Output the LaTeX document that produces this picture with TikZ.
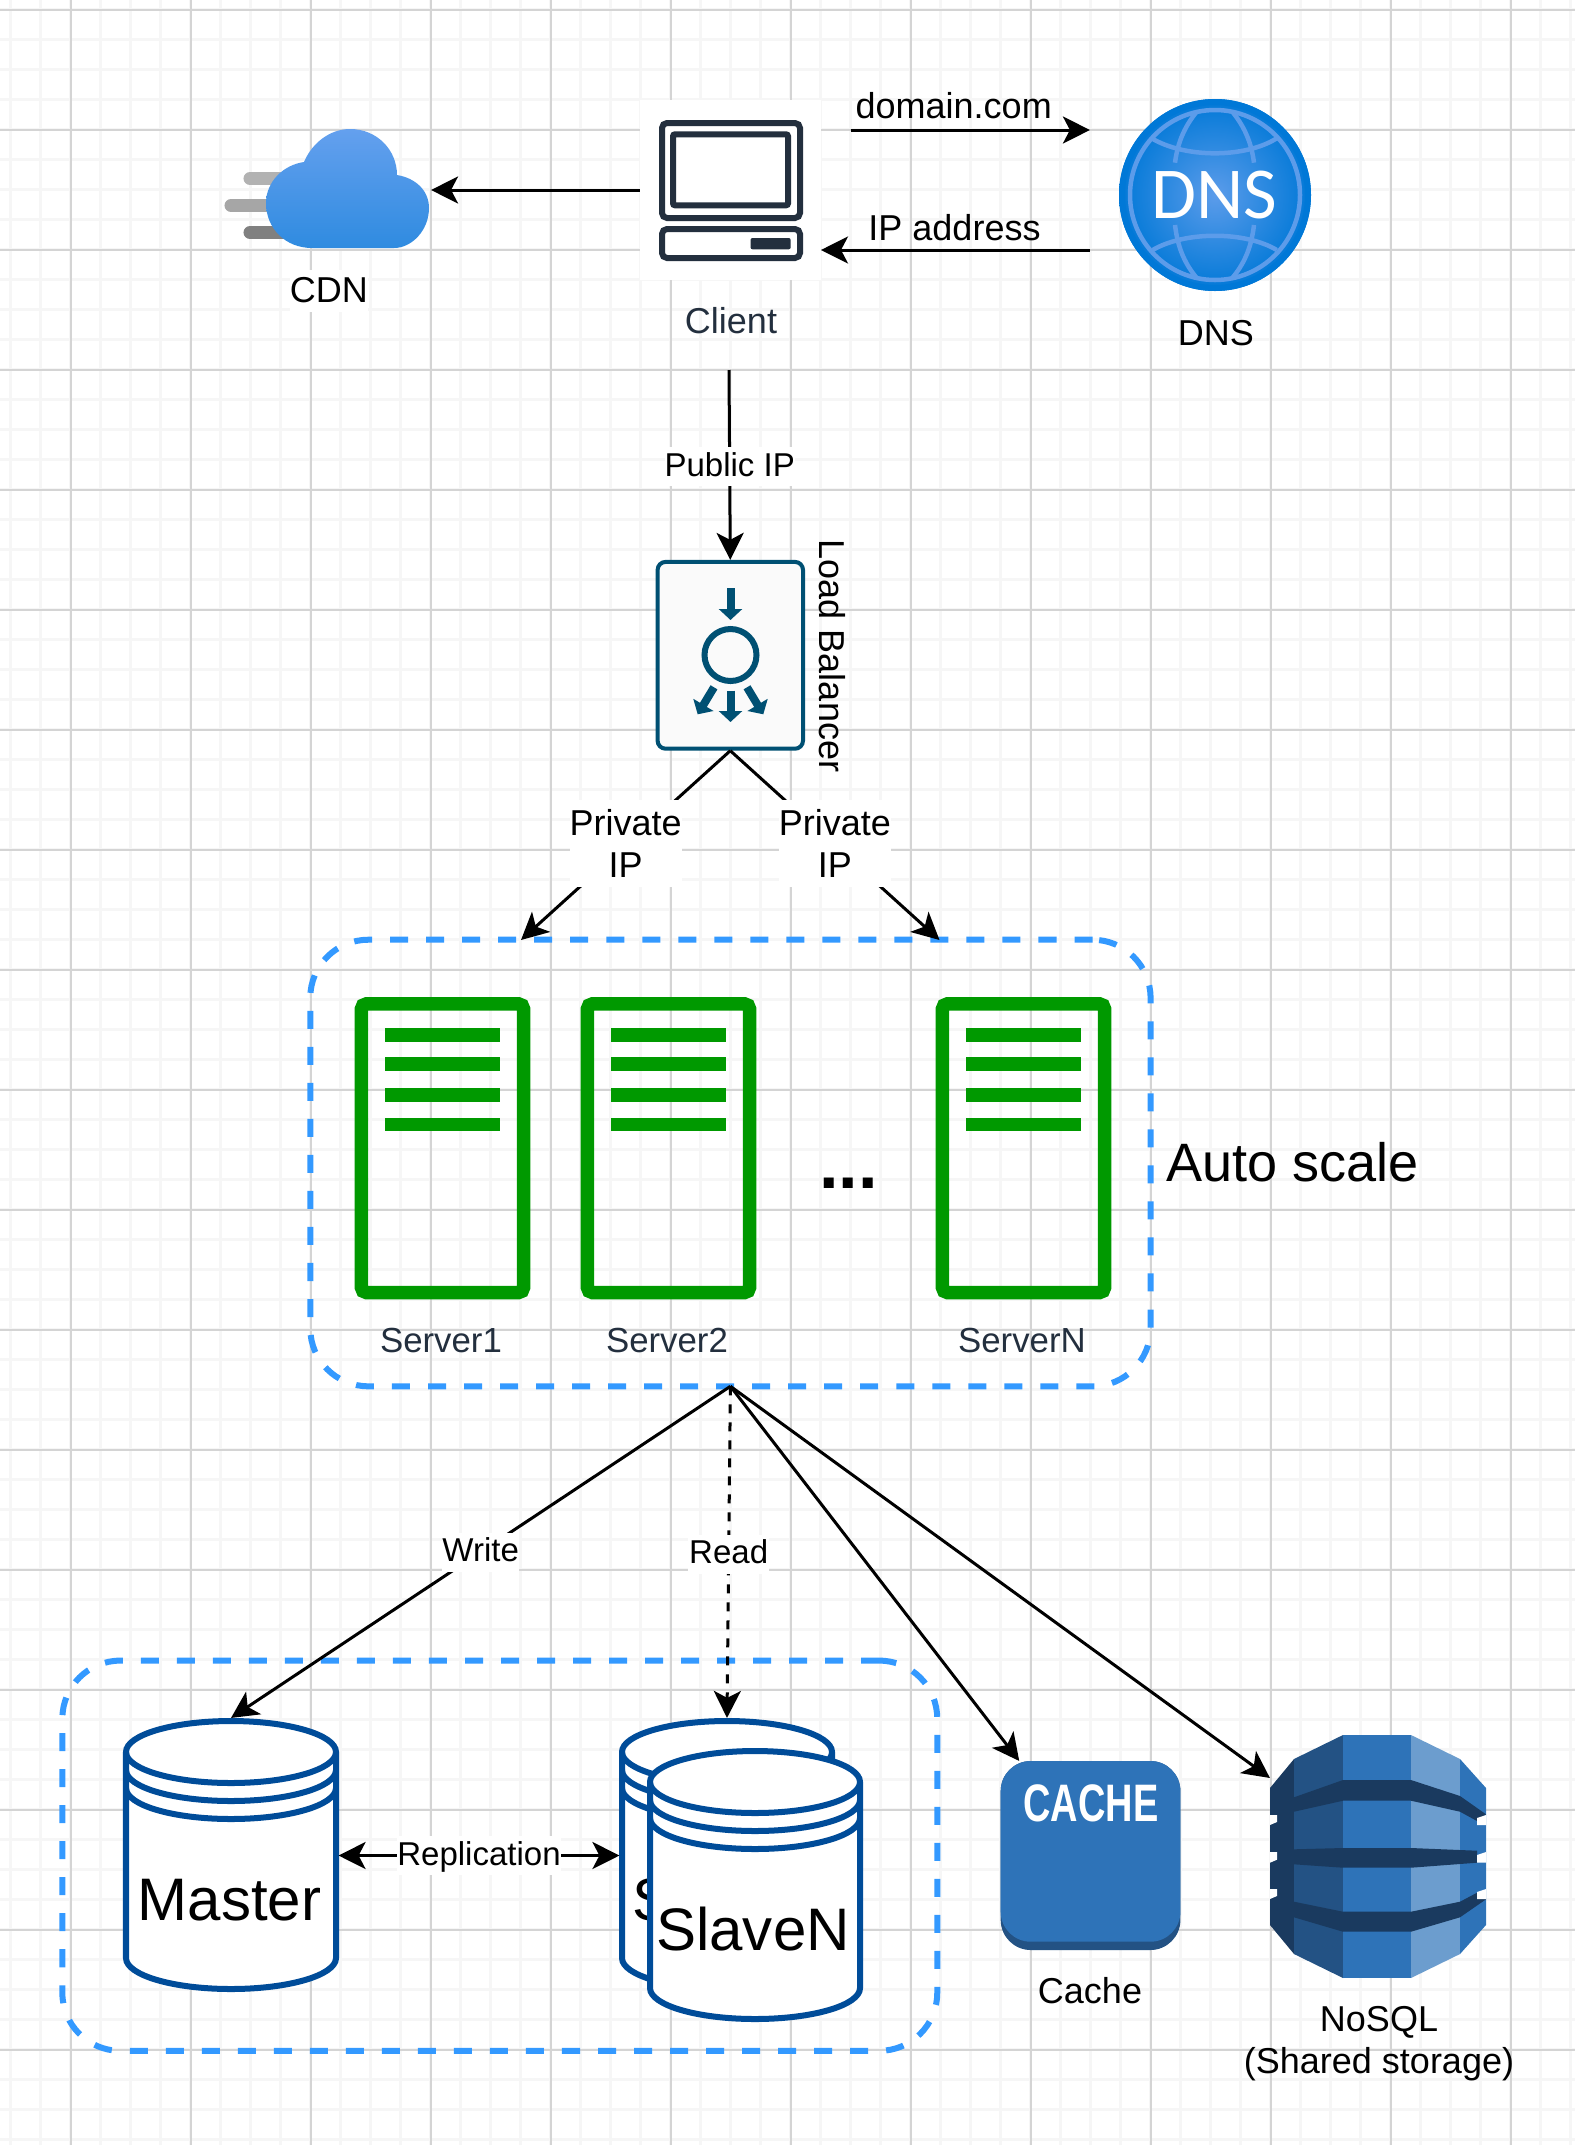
\documentclass[tikz,border=0pt]{standalone}
\usepackage{fontspec}
\setmainfont{Liberation Sans}
\newfontfamily\dnsfont{Carlito}
\usetikzlibrary{arrows.meta}

\newcommand{\labelfont}{\fontsize{10.24}{12.1}\selectfont}
\newcommand{\edgefont}{\fontsize{9.39}{11.3}\selectfont}
\newcommand{\bigfont}{\fontsize{17.07}{20.5}\selectfont}

\tikzset{
  gridminor/.style={color=gridlight, line width=0.03cm},
  gridmajor/.style={color=griddark, line width=0.02cm},
  link/.style={line width=0.03cm},
  textlabel/.style={inner sep=0, outer sep=0, font=\labelfont, anchor=base},
  darklabel/.style={textlabel, text=clientdark},
  edgelabel/.style={fill=white, inner sep=0, minimum height=0.39cm, text height=0.24cm, text depth=0.05cm, font=\edgefont},
  privatelabel/.style={fill=white, inner sep=0, minimum width=1.11cm, minimum height=0.87cm, align=center, font=\labelfont},
  iconbox/.style={inner sep=0, outer sep=0},
  groupbox/.style={draw=groupblue, line width=0.06cm, dash pattern=on 0.18cm off 0.18cm, rounded corners=0.58cm, inner sep=0, outer sep=0},
  serverbox/.style={draw=servergreen, line width=0.135cm, rounded corners=0.05cm, minimum width=1.62cm, minimum height=2.885cm, inner sep=0},
  serverline/.style={color=servergreen, line width=0.137cm},
  storeline/.style={draw=storeblue, line width=0.06cm},
  lbarrow/.style={color=lbteal, line width=0.08cm, -{Triangle[length=0.11cm,width=0.23cm]}},
  clientline/.style={draw=clientdark, line width=0.06cm},
  globeline/.style={draw=globelight, line width=0.045cm},
}

% cylinder: centre x, top y
\newcommand{\datastore}[2]{
  \draw[storeline, fill=white] (#1-105,#2+31) arc[start angle=180, end angle=360, x radius=105, y radius=31]
    -- (#1+105,#2+237) arc[start angle=0, end angle=180, x radius=105, y radius=31] -- cycle;
  \foreach \dy in {31,49,67} {
    \draw[storeline] (#1-105,#2+\dy) arc[start angle=180, end angle=0, x radius=105, y radius=31];
  }
}

\begin{document}
\begin{tikzpicture}[x=0.01cm,y=-0.01cm,>={Stealth[length=0.27cm,width=0.27cm,inset=0.07cm]}]
  \definecolor{gridlight}{RGB}{246,246,246}
  \definecolor{griddark}{RGB}{212,212,212}
  \definecolor{clientdark}{RGB}{35,47,62}
  \definecolor{groupblue}{RGB}{51,153,255}
  \definecolor{servergreen}{RGB}{0,153,0}
  \definecolor{storeblue}{RGB}{0,76,153}
  \definecolor{lbteal}{RGB}{0,80,115}
  \definecolor{lbfill}{RGB}{250,250,250}
  \definecolor{globelight}{RGB}{92,156,234}
  \definecolor{globeblue}{RGB}{0,120,215}
  \definecolor{cloudtop}{RGB}{100,160,238}
  \definecolor{cloudbottom}{RGB}{47,139,224}
  \definecolor{awsblue}{RGB}{46,115,184}
  \definecolor{awsmid}{RGB}{35,82,132}
  \definecolor{awsdark}{RGB}{26,58,95}
  \definecolor{awslight}{RGB}{108,157,206}
  \useasboundingbox (0,0) rectangle (1575,2145);
  \fill[white] (0,0) rectangle (1575,2145);

  % grid
  \foreach \x in {10.7,40.7,...,1575} \draw[gridminor] (\x,0) -- (\x,2145);
  \foreach \y in {9.7,39.7,...,2145} \draw[gridminor] (0,\y) -- (1575,\y);
  \foreach \x in {70.7,190.7,...,1575} \draw[gridmajor] (\x,0) -- (\x,2145);
  \foreach \y in {9.7,129.7,...,2145} \draw[gridmajor] (0,\y) -- (1575,\y);

  % cdn
  \node[iconbox, minimum width=1.65cm, minimum height=1.19cm] (cdn) at (348.5,190) {};
  \draw[color=gray!60, line width=0.13cm, line cap=round] (250,178.5) -- (300,178.5);
  \draw[color=black!35, line width=0.13cm, line cap=round] (231,205.5) -- (300,205.5);
  \draw[color=black!50, line width=0.13cm, line cap=round] (250,232.5) -- (300,232.5);
  \shade[top color=cloudtop, bottom color=cloudbottom] (312,248) .. controls (285,248) and (266,228) .. (266,203)
    .. controls (266,182) and (283,165) .. (304,162) .. controls (312,143) and (330,129) .. (350,129)
    .. controls (377,129) and (397,150) .. (397,175) .. controls (415,178) and (429,190) .. (429,208)
    .. controls (429,230) and (412,248) .. (394,248) -- cycle;
  \node[textlabel, fill=white, text depth=0.09cm, text height=0.33cm, minimum width=0.76cm] (cdnlabel) at (329,302.7) {CDN};

  % client
  \node[iconbox, fill=white, minimum width=1.81cm, minimum height=1.8cm] (client) at (730.5,190) {};
  \draw[clientline, rounded corners=0.05cm] (662,123) rectangle (800,218);
  \draw[clientline, rounded corners=0.02cm] (673,134.3) rectangle (788,205.3);
  \draw[clientline, rounded corners=0.05cm] (662,229) rectangle (800,258);
  \fill[clientdark, rounded corners=0.02cm] (750.5,238) rectangle (790.7,249.3);
  \node[darklabel] (clientlabel) at (731,333) {Client};

  % dns
  \node[iconbox, minimum width=2.5cm, minimum height=2cm] (dns) at (1215,195) {};
  \shade[inner color=globelight, outer color=globeblue] (1215,195) circle (96);
  \draw[color=globeblue, line width=0.06cm] (1215,195) circle (93);
  \draw[globeline] (1215,195) circle (85);
  \draw[globeline] (1151.7,138.3) .. controls (1185,158.3) and (1245,158.3) .. (1276.7,138.3);
  \draw[globeline] (1152.7,250) .. controls (1185,231) and (1245,231) .. (1276.7,250);
  \draw[globeline] (1175,162.7) .. controls (1178,140) and (1186,125) .. (1196.7,111.7);
  \draw[globeline] (1254,162.7) .. controls (1251,140) and (1243,125) .. (1232.3,111.7);
  \draw[globeline] (1175,225) .. controls (1178,250) and (1186,265) .. (1196.7,278);
  \draw[globeline] (1254,225) .. controls (1251,250) and (1243,265) .. (1232.3,278);
  \node[textlabel, text=white, font=\dnsfont\fontsize{20.8}{24}\selectfont] (dnsicontext) at (1214.5,218.3) {DNS};
  \node[textlabel] (dnslabel) at (1216,345) {DNS};

  \coordinate (domainout) at (850.5,130);
  \coordinate (ipin) at (821,250);
  \coordinate (clientout) at (729,370);
  \draw[->, link] (client.west) -- (cdn.east);
  \draw[->, link] (domainout) -- (dns.west |- domainout);
  \draw[->, link] (dns.west |- ipin) -- (ipin);
  \node[textlabel] (domainlabel) at (953.7,118) {domain.com};
  \node[textlabel] (iplabel) at (954.5,240) {IP address};

  % load balancer
  \node[draw=lbteal, fill=lbfill, line width=0.04cm, rounded corners=0.08cm, minimum width=1.453cm, minimum height=1.867cm, inner sep=0] (lb) at (730.3,655.3) {};
  \draw[lbarrow] (730.5,588) -- (730.5,620);
  \draw[color=lbteal, line width=0.06cm] (730.5,655) circle (26);
  \draw[lbarrow] (730.5,690.7) -- (730.5,722);
  \draw[lbarrow] (714,687.3) -- (697.7,714.3);
  \draw[lbarrow] (747,687.3) -- (763.3,714.3);
  \node[textlabel, rotate=-90] (lblabel) at (819.5,656) {Load Balancer};
  \draw[->, link] (clientout) -- (lb.north) node[pos=0.51, edgelabel, minimum width=1.28cm] (publiclabel) {Public IP};

  % auto scale group
  \node[groupbox, minimum width=8.398cm, minimum height=4.463cm] (autoscale) at (730.4,1163) {};
  \coordinate (autoleft) at (521,940);
  \coordinate (autoright) at (939.5,940);
  \draw[->, link] (lb.south) -- (autoleft) node[midway, yshift=0.02cm, privatelabel] (privateleft) {Private\\IP};
  \draw[->, link] (lb.south) -- (autoright) node[midway, yshift=0.02cm, privatelabel] (privateright) {Private\\IP};
  \foreach \sx/\sname/\slabel in {0/server1/Server1, 226/server2/Server2, 581/servern/ServerN} {
    \node[serverbox] (\sname) at (442.5+\sx,1148.2) {};
    \foreach \ly in {1035,1064.2,1094.8,1124.5} \draw[serverline] (385+\sx,\ly) -- (499.7+\sx,\ly);
    \node[darklabel, font=\fontsize{9.9}{11.9}\selectfont] (\sname label) at (441+\sx,1352.7) {\slabel};
  }
  \node[textlabel, font=\fontsize{20}{24}\selectfont\bfseries] (dots) at (848.5,1188) {...};
  \node[textlabel, anchor=base west, font=\fontsize{15.37}{18.5}\selectfont] (autolabel) at (1166,1181.7) {Auto scale};

  % databases
  \node[groupbox, minimum width=8.744cm, minimum height=3.9cm] (dbgroup) at (499.8,1855.7) {};
  \node[iconbox, minimum width=2.15cm, minimum height=2.75cm] (master) at (231,1855.5) {};
  \node[iconbox, minimum width=2.15cm, minimum height=2.75cm] (slave1) at (727,1855.5) {};
  \datastore{231}{1721}
  \node[textlabel, font=\bigfont] (mastertext) at (229.5,1920) {Master};
  \datastore{727}{1721}
  \node[textlabel, font=\bigfont] (slave1text) at (724,1920) {Slave1};
  \datastore{755}{1751}
  \node[textlabel, font=\bigfont] (slaventext) at (753,1950) {SlaveN};
  \draw[<->, link] (master.east) -- (slave1.west) node[midway, edgelabel, minimum width=1.64cm] (replicationlabel) {Replication};

  % cache
  \node[iconbox, minimum width=1.797cm, minimum height=1.89cm] (cache) at (1090.5,1855.5) {};
  \fill[awsmid, rounded corners=0.3cm] (1000.7,1761) rectangle (1180.4,1950);
  \fill[awsblue, rounded corners=0.3cm] (1000.7,1761) rectangle (1180.4,1941.7);
  \node[textlabel, text=white, font=\fontsize{15}{18}\selectfont\bfseries] (cachetext) at (1091,1821) {\scalebox{0.72}[1]{CACHE}};
  \node[textlabel] (cachelabel) at (1090,2003) {Cache};

  % nosql
  \node[iconbox, minimum width=2.16cm, minimum height=2.43cm] (nosql) at (1378,1856.5) {};
  \fill[awsdark] (1270,1788) -- (1294,1759) -- (1294,1954) -- (1270,1925) -- cycle;
  \fill[awsmid] (1294,1759) -- (1343,1735) -- (1343,1978) -- (1294,1954) -- cycle;
  \fill[awsblue] (1343,1735) rectangle (1411,1978);
  \fill[awslight] (1411,1735) -- (1460,1759) -- (1460,1954) -- (1411,1978) -- cycle;
  \fill[awsblue] (1460,1759) -- (1486,1788) -- (1486,1925) -- (1460,1954) -- cycle;
  \fill[awsdark] (1294,1797.3) -- (1343,1780) -- (1411,1780) -- (1460,1796) -- (1486,1814.3) -- (1477,1821) -- (1460,1811.7) -- (1411,1800.7) -- (1343,1800.7) -- (1294,1811.7) -- cycle;
  \fill[awsdark] (1294,1849.3) -- (1343,1848) -- (1411,1848) -- (1477,1850.7) -- (1477,1862.7) -- (1411,1867.7) -- (1343,1867.7) -- (1294,1864.3) -- cycle;
  \fill[awsdark] (1294,1901.7) -- (1343,1911.7) -- (1411,1911.7) -- (1460,1901.7) -- (1477,1892.7) -- (1486,1899.3) -- (1460,1917.3) -- (1411,1931.7) -- (1343,1931.7) -- (1294,1917.3) -- cycle;
  \foreach \ny/\nh in {1815/1825,1852/1862.7,1889/1899} {
    \fill[white] (1270,\ny) -- (1277,\ny) -- (1277,\nh-3) -- (1270,\nh) -- cycle;
    \fill[white] (1486,\ny) -- (1477,\ny+3) -- (1477,\nh) -- (1486,\nh) -- cycle;
  }
  \node[textlabel, anchor=center, align=center] (nosqllabel) at (1379,2043.5) {NoSQL\\(Shared storage)};

  \coordinate (autobottom) at (autoscale.south);
  \draw[->, link] (autobottom) -- (master.north) node[midway, edgelabel, minimum width=0.75cm] (writelabel) {Write};
  \draw[->, link, dash pattern=on 0.09cm off 0.09cm] (autobottom) -- (slave1.north) node[midway, yshift=-0.02cm, edgelabel, minimum width=0.81cm] (readlabel) {Read};
  \draw[->, link] (autobottom) -- (cache.127.6);
  \draw[->, link] (autobottom) -- (nosql.144);
\end{tikzpicture}
\end{document}
